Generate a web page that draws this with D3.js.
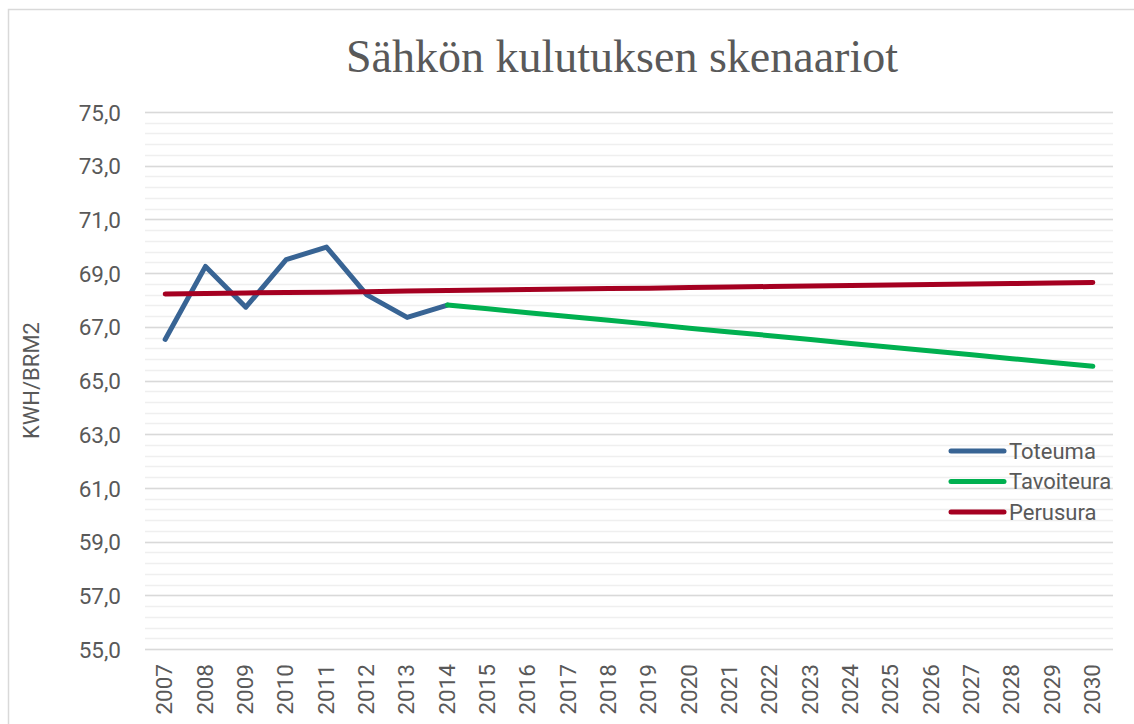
<!DOCTYPE html>
<html><head><meta charset="utf-8">
<script src="https://cdn.jsdelivr.net/npm/d3@7"></script>
<style>body{margin:0;background:#fff;}svg{display:block;}</style>
</head><body>
<script>
const years = ["2007","2008","2009","2010","2011","2012","2013","2014","2015","2016","2017","2018","2019","2020","2021","2022","2023","2024","2025","2026","2027","2028","2029","2030"];
const toteuma = [66.53,69.25,67.73,69.50,69.97,68.19,67.35,67.81,null,null,null,null,null,null,null,null,null,null,null,null,null,null,null,null];
const tavoiteura = [null,null,null,null,null,null,null,67.81,67.67,67.52,67.38,67.24,67.10,66.95,66.81,66.67,66.53,66.38,66.24,66.10,65.96,65.81,65.67,65.53];
const perusura = [68.22,68.24,68.26,68.28,68.29,68.31,68.33,68.35,68.37,68.39,68.41,68.43,68.44,68.46,68.48,68.50,68.52,68.54,68.56,68.58,68.59,68.61,68.63,68.65];
const yTicks = [55,57,59,61,63,65,67,69,71,73,75];
const series = [
  {name:"Toteuma", values:toteuma, color:"#386494"},
  {name:"Tavoiteura", values:tavoiteura, color:"#00b050"},
  {name:"Perusura", values:perusura, color:"#a50021"}
];
const W=1134,H=724;
const m={left:145,right:1113,top:112,bottom:649};
const FONT="Roboto, sans-serif";
const svg=d3.select("body").append("svg").attr("width",W).attr("height",H);
// chart border
svg.append("path").attr("d",`M8.5,${H} V9.5 H${W}`).attr("fill","none").attr("stroke","#d9d9d9").attr("stroke-width",1.5);
const x=d3.scaleBand().domain(years).range([m.left,m.right]);
const y=d3.scaleLinear().domain([55,75]).range([m.bottom,m.top]);
// minor grid
const minor=d3.range(55,75.001,0.4).map(v=>+v.toFixed(1));
svg.append("g").selectAll("line").data(minor).join("line")
  .attr("x1",m.left).attr("x2",m.right).attr("y1",d=>Math.round(y(d))+0.5).attr("y2",d=>Math.round(y(d))+0.5)
  .attr("stroke","#efefef").attr("stroke-width",1.5);
svg.append("g").selectAll("line").data(yTicks).join("line")
  .attr("x1",m.left).attr("x2",m.right).attr("y1",d=>Math.round(y(d))+0.5).attr("y2",d=>Math.round(y(d))+0.5)
  .attr("stroke","#d9d9d9").attr("stroke-width",1.5);
// y axis labels
const fmt=d=>d.toFixed(1).replace(".",",");
const yAxis=d3.axisLeft(y).tickValues(yTicks).tickFormat(fmt).tickSize(0).tickPadding(0);
const ya=svg.append("g").attr("transform",`translate(121,0)`).call(yAxis);
ya.select(".domain").remove();
ya.selectAll("text").attr("font-family",FONT).attr("font-size",22.5).attr("fill","#595959").attr("dy","0.36em");
// x axis labels
const xAxis=d3.axisBottom(x).tickSize(0).tickPadding(0);
const xa=svg.append("g").attr("transform",`translate(0,${m.bottom})`).call(xAxis);
xa.select(".domain").remove();
xa.selectAll("text").attr("font-family",FONT).attr("font-size",22.5).attr("fill","#595959")
  .attr("transform","rotate(-90)").attr("text-anchor","end").attr("x",-15).attr("y",-1).attr("dy","0.36em");
// axis title
svg.append("text").attr("transform",`translate(31,${(m.top+m.bottom)/2}) rotate(-90)`)
  .attr("text-anchor","middle").attr("dy","0.36em").attr("font-family",FONT).attr("font-size",22).attr("fill","#595959").text("KWH/BRM2");
// title
svg.append("text").attr("x",622).attr("y",72).attr("text-anchor","middle")
  .attr("font-family","Liberation Serif, serif").attr("font-size",46).attr("fill","#595959").text("Sähkön kulutuksen skenaariot");
// lines
const line=d3.line().defined(d=>d!=null).x((d,i)=>x(years[i])+x.bandwidth()/2).y(d=>y(d));
svg.append("g").selectAll("path").data(series).join("path")
  .attr("d",s=>line(s.values)).attr("fill","none").attr("stroke",s=>s.color)
  .attr("stroke-width",5).attr("stroke-linecap","round").attr("stroke-linejoin","round");
// legend
const lg=svg.append("g").selectAll("g").data(series).join("g").attr("transform",(d,i)=>`translate(951,${451+i*30.5})`);
lg.append("line").attr("x1",0).attr("x2",53).attr("stroke",d=>d.color).attr("stroke-width",5).attr("stroke-linecap","round");
lg.append("text").attr("x",58).attr("dy","0.36em").attr("font-family",FONT).attr("font-size",22).attr("fill","#595959").text(d=>d.name);
</script>
</body></html>
